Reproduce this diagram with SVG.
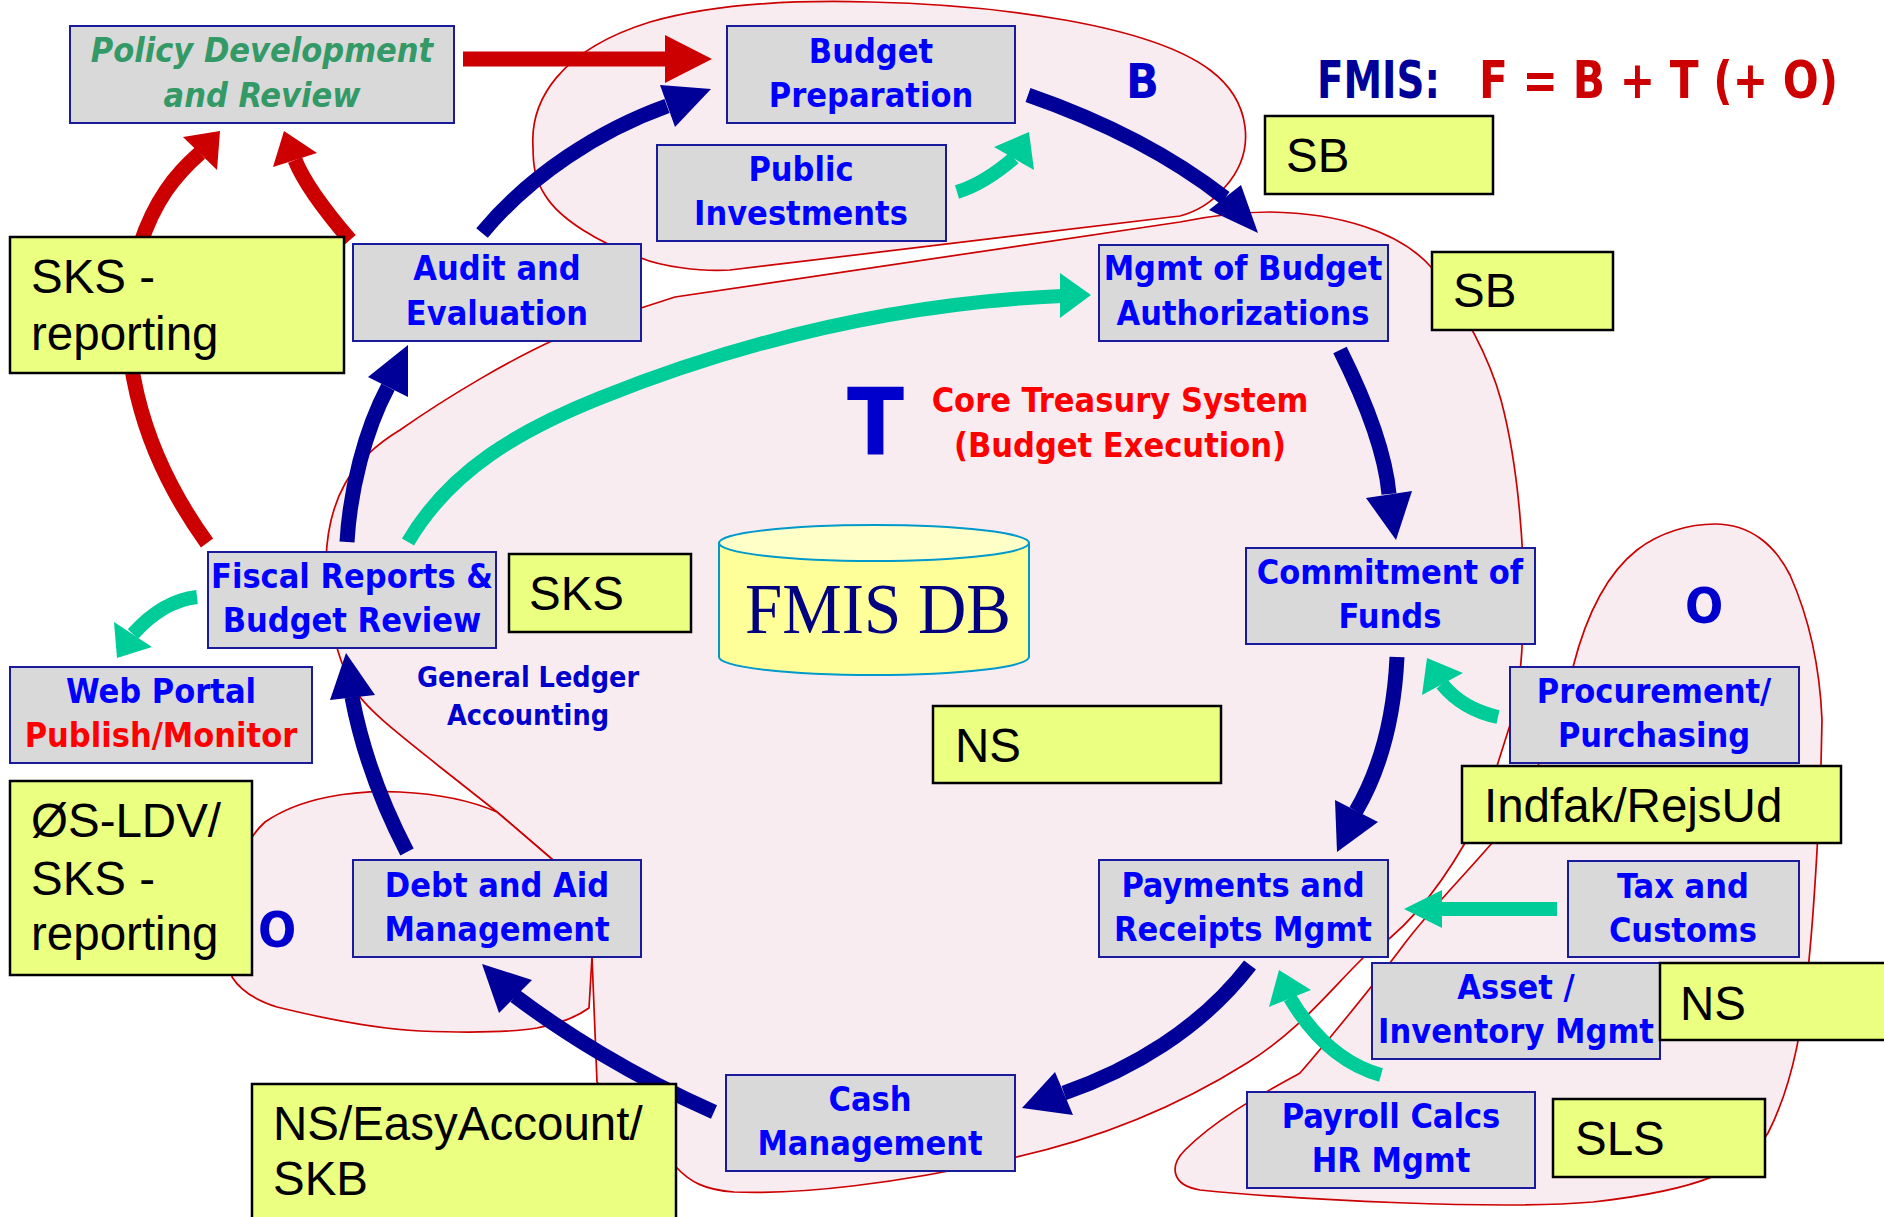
<svg xmlns="http://www.w3.org/2000/svg" width="1884" height="1217" viewBox="0 0 1884 1217">
<style>
.box rect{fill:#d9d9d9;stroke:#1a1a9c;stroke-width:2}
.box text{font-family:'DejaVu Sans Condensed','DejaVu Sans',sans-serif;font-stretch:condensed;font-weight:bold;font-size:34px;fill:#0000ff;text-anchor:middle}
.note rect{fill:#ebff80;stroke:#000;stroke-width:2.5}
.note text{font-family:'Liberation Sans',Arial,sans-serif;font-size:47.5px;fill:#000}
.blob{fill:#f9ecf1;stroke:#cc0000;stroke-width:1.7}
.sn{fill:none;stroke:#000099;stroke-width:15}
.hn{fill:#000099}
.sr{fill:none;stroke:#cc0000;stroke-width:15}
.hr{fill:#cc0000}
.st{fill:none;stroke:#00cc99;stroke-width:14}
.ht{fill:#00cc99}
.lbl{font-family:'DejaVu Sans Condensed','DejaVu Sans',sans-serif;font-stretch:condensed;font-weight:bold}
</style>
<rect width="1884" height="1217" fill="#ffffff"/>
<g id="regions">
<path id="blob-B" class="blob" d="M 533,147 C 530,100 560,50 650,22 C 720,2 800,0 870,2 C 1000,5 1150,25 1210,70 C 1250,100 1258,150 1225,187 C 1210,205 1195,212 1180,216 L 730,270 C 700,272 660,266 641,258 C 600,243 560,220 545,195 C 535,180 533,165 533,147 Z"/>
<path id="blob-T" class="blob" d="M 641,308 L 675,297 L 1180,222 C 1210,216 1240,212 1270,212 C 1340,213 1400,232 1431,267 C 1465,310 1490,360 1501,400 C 1513,445 1520,500 1523,560 C 1525,620 1522,690 1510,725 L 1497,766 L 1465,843 C 1435,895 1400,935 1364,957 C 1330,990 1300,1030 1247,1063 C 1180,1105 1100,1140 1002,1160 C 900,1183 800,1195 734,1192 C 705,1190 690,1182 676,1167 L 597,1082 L 592,957 L 553,860 L 497,812 L 440,767 C 400,735 370,712 357,693 C 335,660 326,610 326,560 C 328,500 350,460 400,430 C 450,395 510,360 554,340 Z"/>
<path id="blob-O-right" class="blob" d="M 1715,524 C 1750,524 1775,545 1790,575 C 1810,620 1820,670 1822,720 L 1821,765 C 1820,800 1815,900 1809,960 C 1803,1020 1795,1080 1768,1133 C 1745,1170 1700,1190 1593,1202 C 1500,1210 1300,1200 1200,1190 C 1170,1185 1170,1165 1185,1150 C 1220,1115 1270,1090 1300,1073 C 1320,1050 1370,990 1405,943 C 1430,910 1460,880 1492,843 L 1538,766 L 1573,667 C 1585,620 1605,575 1637,550 C 1660,532 1690,524 1715,524 Z"/>
<path id="blob-O-left" class="blob" d="M 240,900 C 240,860 245,840 265,822 C 300,798 350,790 400,792 C 440,794 470,800 497,812 L 553,860 L 592,957 L 589,1008 C 575,1018 560,1023 537,1028 C 500,1034 446,1032 420,1031 C 380,1029 330,1020 277,1007 C 255,1000 240,990 232,977 Z"/>
</g>
<g id="connectors">
<path class="sr" d="M 463,59 L 667,59"/><polygon class="hr" points="665,35 712,59 665,83"/>
<path class="sr" d="M 207,543 C 140,450 110,340 140,245 C 155,200 175,175 200,153"/><polygon class="hr" points="183,137 220,131 217,170"/>
<path class="sr" d="M 350,240 C 320,205 303,180 295,160"/><polygon class="hr" points="273,167 284,131 317,153"/>
<path class="sn" d="M 482,233 C 530,175 600,130 667,106"/><polygon class="hn" points="660,85 711,89 675,127"/>
<path class="sn" d="M 1028,95 C 1100,120 1170,155 1225,198"/><polygon class="hn" points="1241,185 1258,233 1209,210"/>
<path class="sn" d="M 1340,350 C 1365,400 1385,450 1389,494"/><polygon class="hn" points="1366,498 1412,491 1396,540"/>
<path class="sn" d="M 1397,657 C 1394,720 1380,770 1356,811"/><polygon class="hn" points="1335,800 1378,822 1337,852"/>
<path class="sn" d="M 1250,965 C 1200,1030 1130,1070 1064,1093"/><polygon class="hn" points="1055,1072 1073,1115 1022,1108"/>
<path class="sn" d="M 714,1112 C 630,1075 560,1030 515,996"/><polygon class="hn" points="532,980 499,1013 482,964"/>
<path class="sn" d="M 407,852 C 380,800 362,750 352,697"/><polygon class="hn" points="330,700 375,695 346,653"/>
<path class="sn" d="M 347,542 C 350,490 365,430 388,387"/><polygon class="hn" points="368,377 408,397 408,345"/>
<path class="st" d="M 957,192 C 980,185 1000,170 1014,158"/><polygon class="ht" points="994,147 1034,170 1029,132"/>
<path class="st" d="M 408,542 C 450,470 520,430 600,398 S 850,305 1062,296"/><polygon class="ht" points="1060,273 1091,295 1060,318"/>
<path class="st" d="M 197,597 C 170,600 150,615 133,634"/><polygon class="ht" points="114,622 152,647 117,658"/>
<path class="st" d="M 1498,717 C 1475,712 1455,700 1442,684"/><polygon class="ht" points="1422,695 1463,673 1427,658"/>
<path class="st" d="M 1557,909 L 1442,909"/><polygon class="ht" points="1442,890 1442,928 1404,909"/>
<path class="st" d="M 1381,1075 C 1345,1065 1315,1040 1290,998"/><polygon class="ht" points="1269,1007 1311,990 1279,970"/>
</g>
<g id="cylinder-fmis-db">
<path d="M 719,543 L 719,657 A 155,18 0 0 0 1029,657 L 1029,543 Z" fill="#ffff99" stroke="#0099cc" stroke-width="2"/>
<ellipse cx="874" cy="543" rx="155" ry="18" fill="#ffffc8" stroke="#0099cc" stroke-width="2"/>
<text x="745" y="633" font-family="'Liberation Serif','Times New Roman',serif" font-size="72" fill="#000080" textLength="266" lengthAdjust="spacingAndGlyphs">FMIS DB</text>
</g>
<g id="policy" class="box"><rect x="70" y="26" width="384" height="97"/><text x="262" y="62" style="fill:#339966;font-style:italic">Policy Development</text><text x="262" y="107" style="fill:#339966;font-style:italic">and Review</text></g>
<g id="budget-prep" class="box"><rect x="727" y="26" width="288" height="97"/><text x="871" y="63">Budget</text><text x="871" y="107">Preparation</text></g>
<g id="public-inv" class="box"><rect x="657" y="145" width="289" height="96"/><text x="801" y="181">Public</text><text x="801" y="225">Investments</text></g>
<g id="audit" class="box"><rect x="353" y="244" width="288" height="97"/><text x="497" y="280">Audit and</text><text x="497" y="325">Evaluation</text></g>
<g id="mgmt-auth" class="box"><rect x="1099" y="245" width="289" height="96"/><text x="1243" y="280">Mgmt of Budget</text><text x="1243" y="325">Authorizations</text></g>
<g id="fiscal" class="box"><rect x="208" y="552" width="288" height="96"/><text x="352" y="588">Fiscal Reports &amp;</text><text x="352" y="632">Budget Review</text></g>
<g id="commitment" class="box"><rect x="1246" y="548" width="289" height="96"/><text x="1390" y="584">Commitment of</text><text x="1390" y="628">Funds</text></g>
<g id="web-portal" class="box"><rect x="10" y="667" width="302" height="96"/><text x="161" y="703">Web Portal</text><text x="161" y="747" style="fill:#ff0000">Publish/Monitor</text></g>
<g id="procurement" class="box"><rect x="1510" y="667" width="289" height="96"/><text x="1654" y="703">Procurement/</text><text x="1654" y="747">Purchasing</text></g>
<g id="debt" class="box"><rect x="353" y="860" width="288" height="97"/><text x="497" y="897">Debt and Aid</text><text x="497" y="941">Management</text></g>
<g id="payments" class="box"><rect x="1099" y="860" width="289" height="97"/><text x="1243" y="897">Payments and</text><text x="1243" y="941">Receipts Mgmt</text></g>
<g id="tax" class="box"><rect x="1568" y="861" width="231" height="96"/><text x="1683" y="898">Tax and</text><text x="1683" y="942">Customs</text></g>
<g id="asset" class="box"><rect x="1372" y="963" width="288" height="96"/><text x="1516" y="999">Asset /</text><text x="1516" y="1043">Inventory Mgmt</text></g>
<g id="cash" class="box"><rect x="726" y="1075" width="289" height="96"/><text x="870" y="1111">Cash</text><text x="870" y="1155">Management</text></g>
<g id="payroll" class="box"><rect x="1247" y="1092" width="288" height="96"/><text x="1391" y="1128">Payroll Calcs</text><text x="1391" y="1172">HR Mgmt</text></g>
<g id="note-sks-reporting" class="note"><rect x="10" y="237" width="334" height="136"/><text x="31" y="293">SKS -</text><text x="31" y="350">reporting</text></g>
<g id="note-sb1" class="note"><rect x="1265" y="116" width="228" height="78"/><text x="1286" y="172">SB</text></g>
<g id="note-sb2" class="note"><rect x="1432" y="252" width="181" height="78"/><text x="1453" y="307">SB</text></g>
<g id="note-sks" class="note"><rect x="509" y="554" width="182" height="78"/><text x="529" y="610">SKS</text></g>
<g id="note-ns-center" class="note"><rect x="933" y="706" width="288" height="77"/><text x="955" y="762">NS</text></g>
<g id="note-indfak" class="note"><rect x="1462" y="766" width="379" height="77"/><text x="1484" y="822">Indfak/RejsUd</text></g>
<g id="note-ns-right" class="note"><rect x="1660" y="963" width="240" height="77"/><text x="1680" y="1020">NS</text></g>
<g id="note-sls" class="note"><rect x="1553" y="1099" width="212" height="78"/><text x="1575" y="1155">SLS</text></g>
<g id="note-ns-easy" class="note"><rect x="252" y="1084" width="424" height="150"/><text x="273" y="1140">NS/EasyAccount/</text><text x="273" y="1195">SKB</text></g>
<g id="note-os-ldv" class="note"><rect x="10" y="781" width="242" height="194"/><text x="31" y="837">ØS-LDV/</text><text x="31" y="895">SKS -</text><text x="31" y="950">reporting</text></g>
<g id="labels">
<text class="lbl" x="1317" y="98" font-size="52" fill="#000099" textLength="123" lengthAdjust="spacingAndGlyphs">FMIS:</text>
<text class="lbl" x="1479" y="98" font-size="52" fill="#cc0000" textLength="359" lengthAdjust="spacingAndGlyphs">F = B + T (+ O)</text>
<text class="lbl" x="1126" y="98" font-size="48" fill="#0000cc">B</text>
<text class="lbl" x="847" y="455" font-size="93" fill="#0000cc">T</text>
<text class="lbl" x="1120" y="412" font-size="34" fill="#ff0000" text-anchor="middle">Core Treasury System</text>
<text class="lbl" x="1120" y="457" font-size="34" fill="#ff0000" text-anchor="middle">(Budget Execution)</text>
<text class="lbl" x="528" y="687" font-size="28.5" fill="#0000cc" text-anchor="middle">General Ledger</text>
<text class="lbl" x="528" y="725" font-size="28.5" fill="#0000cc" text-anchor="middle">Accounting</text>
<text class="lbl" x="1685" y="623" font-size="50" fill="#0000cc">O</text>
<text class="lbl" x="258" y="947" font-size="50" fill="#0000cc">O</text>
</g>
</svg>
